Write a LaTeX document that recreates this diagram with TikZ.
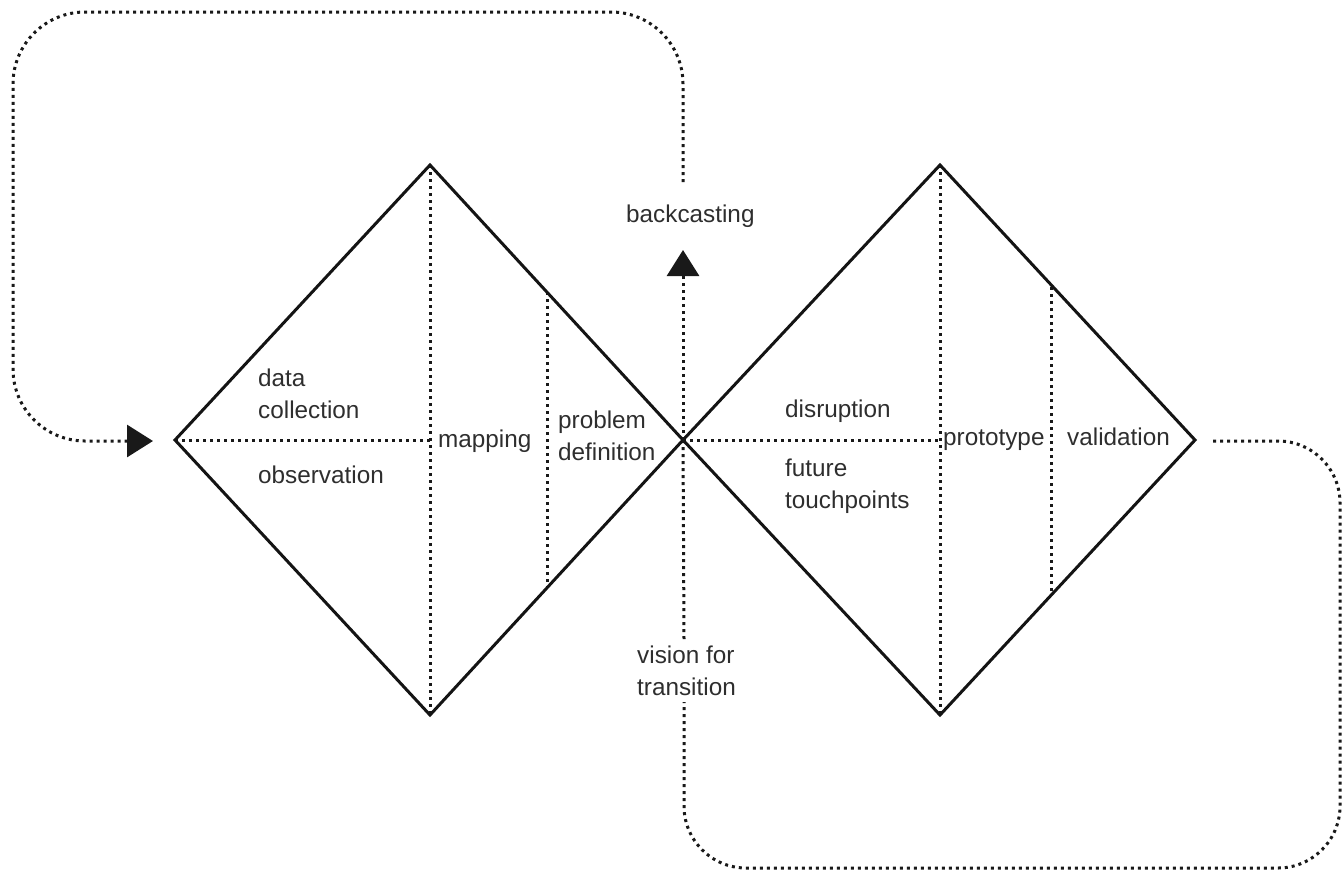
\documentclass[tikz,border=0pt]{standalone}
\usepackage{fontspec}
\setmainfont{Liberation Sans}
\usetikzlibrary{arrows.meta}
\begin{document}
\begin{tikzpicture}[x=1pt,y=-1pt,
  solidline/.style={line width=3pt, draw=black!92, line join=miter},
  dotline/.style={line width=3pt, draw=black!90, dash pattern=on 3pt off 4pt},
  lbl/.style={font=\fontsize{24.3}{32}\selectfont, text=black!82, inner sep=0pt, align=left, anchor=base west},
  tiptri/.style={-{Triangle[length=26pt,width=32pt]}}
]
\useasboundingbox (0,0) rectangle (1343,876);

% key points
\coordinate (L1) at (175,440);
\coordinate (T1) at (430,165);
\coordinate (B1) at (430,715);
\coordinate (C)  at (683,440);
\coordinate (T2) at (940,165);
\coordinate (B2) at (940,715);
\coordinate (R2) at (1195,440);
\coordinate (P1t) at (547,292);
\coordinate (P1b) at (547,588);
\coordinate (P2t) at (1051,287);
\coordinate (P2b) at (1051,593);

% inner dotted lines
\draw[dotline] (L1) -- (T1 |- L1);
\draw[dotline] (C) -- (T2 |- C);
\draw[dotline] (T1) -- (B1);
\draw[dotline] (T2) -- (B2);
\draw[dotline] (P1t) -- (P1b);
\draw[dotline] (P2t) -- (P2b);

% diamonds
\draw[solidline] (L1) -- (T1) -- (C) -- (B1) -- cycle;
\draw[solidline] (C) -- (T2) -- (R2) -- (B2) -- cycle;

% labels (base = baseline of last line)
\node[lbl] (back) at (626,222) {backcasting};
\node[lbl] (data) at (258,418) {data\\collection};
\node[lbl] (obs) at (258,483) {observation};
\node[lbl] (map) at (438,447) {mapping};
\node[lbl] (prob) at (558,460) {problem\\definition};
\node[lbl] (dis) at (785,417) {disruption};
\node[lbl] (fut) at (785,508) {future\\touchpoints};
\node[lbl] (proto) at (943,445) {prototype};
\node[lbl] (valid) at (1067,445) {validation};
\node[lbl] (vision) at (637,695) {vision for\\transition};

% connector ends
\coordinate (backtop) at (683,182);
\coordinate (backtip) at (683,250);
\coordinate (lefttip) at (153,441);
\coordinate (rightstart) at (1213,441);
\coordinate (vistop) at (684,640);
\coordinate (visbot) at (684,702);

% backcasting arrow
\draw[dotline, tiptri] (C) -- (backtip);
% vertical to vision
\draw[dotline] (C) -- (vistop);
% top loop
\draw[dotline, tiptri, rounded corners=72pt] (backtop) -- (683,12) -- (13,12) -- (13,441) -- (lefttip);
% bottom loop
\draw[dotline, rounded corners=62pt] (rightstart) -- (1340,441) -- (1340,868) -- (684,868) -- (visbot);
\end{tikzpicture}
\end{document}
